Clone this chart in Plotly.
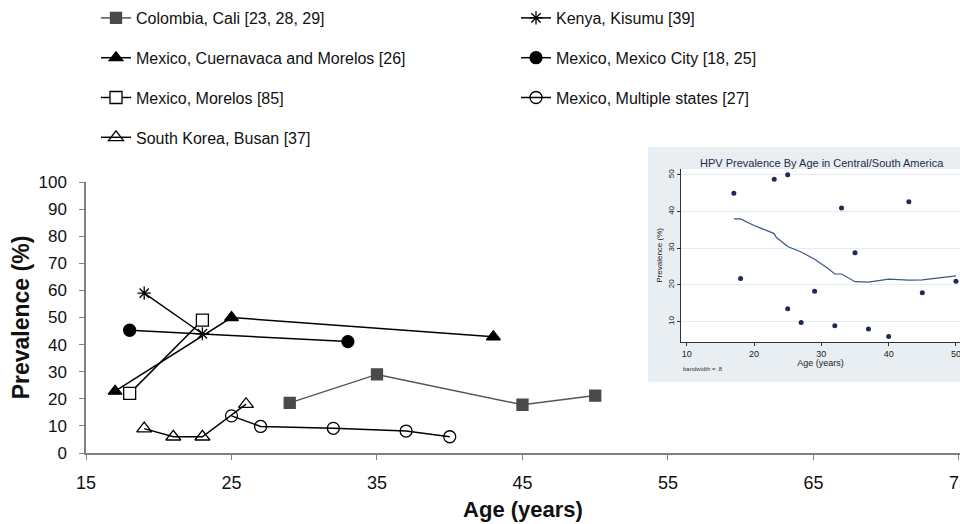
import plotly.graph_objects as go

# ---------------- main chart data ----------------
series_names = [
    "Colombia, Cali [23, 28, 29]",
    "Mexico, Cuernavaca and Morelos [26]",
    "Mexico, Morelos [85]",
    "South Korea, Busan [37]",
    "Kenya, Kisumu [39]",
    "Mexico, Mexico City [18, 25]",
    "Mexico, Multiple states [27]",
]

colombia_age = [29, 35, 45, 50]
colombia_prev = [18.5, 29, 17.8, 21.2]

cuernavaca_age = [17, 25, 43]
cuernavaca_prev = [22.8, 50, 42.9]

morelos_age = [18, 23]
morelos_prev = [22, 49]

korea_age = [19, 21, 23, 26]
korea_prev = [9, 6, 6, 18]

kenya_age = [19, 23]
kenya_prev = [59, 44]

mexcity_age = [18, 33]
mexcity_prev = [45.3, 41.1]

multi_age = [25, 27, 32, 37, 40]
multi_prev = [13.7, 9.8, 9.1, 8.1, 6]

x_ticks = [15, 25, 35, 45, 55, 65, 75]
y_ticks = [0, 10, 20, 30, 40, 50, 60, 70, 80, 90, 100]

# ---------------- inset data ----------------
inset_age = [17, 18, 23, 25, 25, 27, 29, 32, 33, 35, 37, 40, 43, 45, 50]
inset_prev = [45, 21.8, 48.8, 50, 13.5, 9.8, 18.3, 8.9, 41, 28.8, 8, 6, 42.7, 17.9, 21]
lowess_age = [17, 18, 20, 23, 23.3, 25, 27, 29, 31, 32, 33, 35, 37, 40, 43, 45, 50]
lowess_prev = [38, 38, 36.2, 34, 33, 30.5, 29, 27, 24.5, 23, 23, 20.9, 20.8, 21.6, 21.3, 21.4, 22.5]
inset_x_ticks = [10, 20, 30, 40, 50]
inset_y_ticks = [10, 20, 30, 40, 50]

W, H = 960, 524
FONT = "Liberation Sans, Arial, Helvetica, sans-serif"

fig = go.Figure()

def add_series(name, xs, ys, symbol, color, fill, line_color, size, legend, lw=1.5, mlw=1.3):
    fig.add_trace(go.Scatter(
        x=xs, y=ys, mode="lines+markers", name=name,
        line=dict(color=line_color, width=lw),
        marker=dict(symbol=symbol, size=size, color=fill,
                    line=dict(color=color, width=mlw)),
        legend=legend, legendgroup=name,
    ))

add_series(series_names[0], colombia_age, colombia_prev, "square", "#4a4a4a", "#4a4a4a", "#555555", 11, "legend")
add_series(series_names[1], cuernavaca_age, cuernavaca_prev, "triangle-up", "#000000", "#000000", "#000000", 12, "legend")
add_series(series_names[2], morelos_age, morelos_prev, "square", "#000000", "#ffffff", "#000000", 12, "legend")
add_series(series_names[3], korea_age, korea_prev, "triangle-up-open", "#000000", "#000000", "#000000", 13, "legend")
add_series(series_names[4], kenya_age, kenya_prev, "asterisk-open", "#000000", "#000000", "#000000", 11, "legend2")
add_series(series_names[5], mexcity_age, mexcity_prev, "circle", "#000000", "#000000", "#000000", 12, "legend2")
add_series(series_names[6], multi_age, multi_prev, "circle-open", "#000000", "#000000", "#000000", 12, "legend2")

# inset traces
fig.add_trace(go.Scatter(
    x=lowess_age, y=lowess_prev, mode="lines", xaxis="x2", yaxis="y2",
    line=dict(color="#3e5686", width=1.2), showlegend=False, hoverinfo="skip"))
fig.add_trace(go.Scatter(
    x=inset_age, y=inset_prev, mode="markers", xaxis="x2", yaxis="y2",
    marker=dict(color="#1b2a57", size=5), showlegend=False))

def px_x(p):
    return p / W

def px_y(p):
    return 1 - p / H

legend_common = dict(
    orientation="v", xanchor="left", yanchor="top",
    font=dict(family=FONT, size=16, color="#111111"),
    bgcolor="rgba(0,0,0,0)", tracegroupgap=16, itemwidth=30,
)

fig.update_layout(
    width=W, height=H,
    margin=dict(l=0, r=0, t=0, b=0, autoexpand=False),
    paper_bgcolor="white", plot_bgcolor="white",
    font=dict(family=FONT, color="#111111"),
    legend=dict(x=px_x(96), y=px_y(1), **legend_common),
    legend2=dict(x=px_x(516), y=px_y(1), **legend_common),
    xaxis=dict(
        domain=[px_x(86), 1.0], range=[15, 75.07], automargin=False,
        tickvals=x_ticks, ticks="outside", ticklen=5, tickcolor="#808080",
        showline=True, linecolor="#808080", linewidth=1.5,
        showgrid=False, zeroline=False, ticklabelstandoff=8,
        ticklabeloverflow="allow",
        tickfont=dict(family=FONT, size=18, color="#111111"),
        title=dict(text="<b>Age (years)</b>", standoff=9,
                   font=dict(family=FONT, size=22, color="#111111")),
        anchor="y",
    ),
    yaxis=dict(
        domain=[px_y(453), px_y(182)], range=[0, 100], automargin=False,
        tickvals=y_ticks, ticks="outside", ticklen=5, tickcolor="#808080",
        showline=True, linecolor="#808080", linewidth=1.5,
        showgrid=False, zeroline=False, ticklabelstandoff=9,
        tickfont=dict(family=FONT, size=17, color="#111111"),
        title=dict(text="<b>Prevalence (%)</b>", standoff=2,
                   font=dict(family=FONT, size=23, color="#111111")),
        anchor="x",
    ),
    xaxis2=dict(
        domain=[px_x(681), 1.0], range=[9.15, 50.6], automargin=False,
        tickvals=inset_x_ticks, ticks="outside", ticklen=3, tickcolor="#333333",
        showline=True, linecolor="#333333", linewidth=1,
        showgrid=False, zeroline=False, ticklabelstandoff=0,
        ticklabeloverflow="allow",
        tickfont=dict(family=FONT, size=9, color="#222222"),
        title=dict(text="Age (years)", standoff=0,
                   font=dict(family=FONT, size=9, color="#222222")),
        anchor="y2",
    ),
    yaxis2=dict(
        domain=[px_y(341.7), px_y(169)], range=[4.55, 51.6], automargin=False,
        tickvals=inset_y_ticks, ticks="outside", ticklen=3, tickcolor="#333333",
        showline=True, linecolor="#333333", linewidth=1,
        showgrid=True, gridcolor="#e6edf2", gridwidth=1, zeroline=False,
        tickangle=-90, ticklabelstandoff=0,
        tickfont=dict(family=FONT, size=8, color="#222222"),
        title=dict(text="Prevalence (%)", standoff=2,
                   font=dict(family=FONT, size=8, color="#222222")),
        anchor="x2",
    ),
    shapes=[
        dict(type="rect", xref="paper", yref="paper", layer="below",
             x0=px_x(648), x1=1.0, y0=px_y(382), y1=px_y(147),
             fillcolor="#e9eef2", line=dict(width=0)),
        dict(type="rect", xref="paper", yref="paper", layer="below",
             x0=px_x(681), x1=1.0, y0=px_y(341.7), y1=px_y(169),
             fillcolor="#ffffff", line=dict(width=0)),
    ],
    annotations=[
        dict(text="HPV Prevalence By Age in Central/South America",
             xref="paper", yref="paper", x=px_x(822), y=px_y(163),
             showarrow=False, xanchor="center", yanchor="middle",
             font=dict(family=FONT, size=11, color="#1f2b48")),
        dict(text="bandwidth = .8",
             xref="paper", yref="paper", x=px_x(681), y=px_y(369),
             showarrow=False, xanchor="left", yanchor="middle",
             font=dict(family=FONT, size=6, color="#333333")),
    ],
)

fig.write_html(
    "out.html",
    config={"displayModeBar": False},
    post_script="document.body.style.margin='0';document.body.style.overflow='hidden';",
)
